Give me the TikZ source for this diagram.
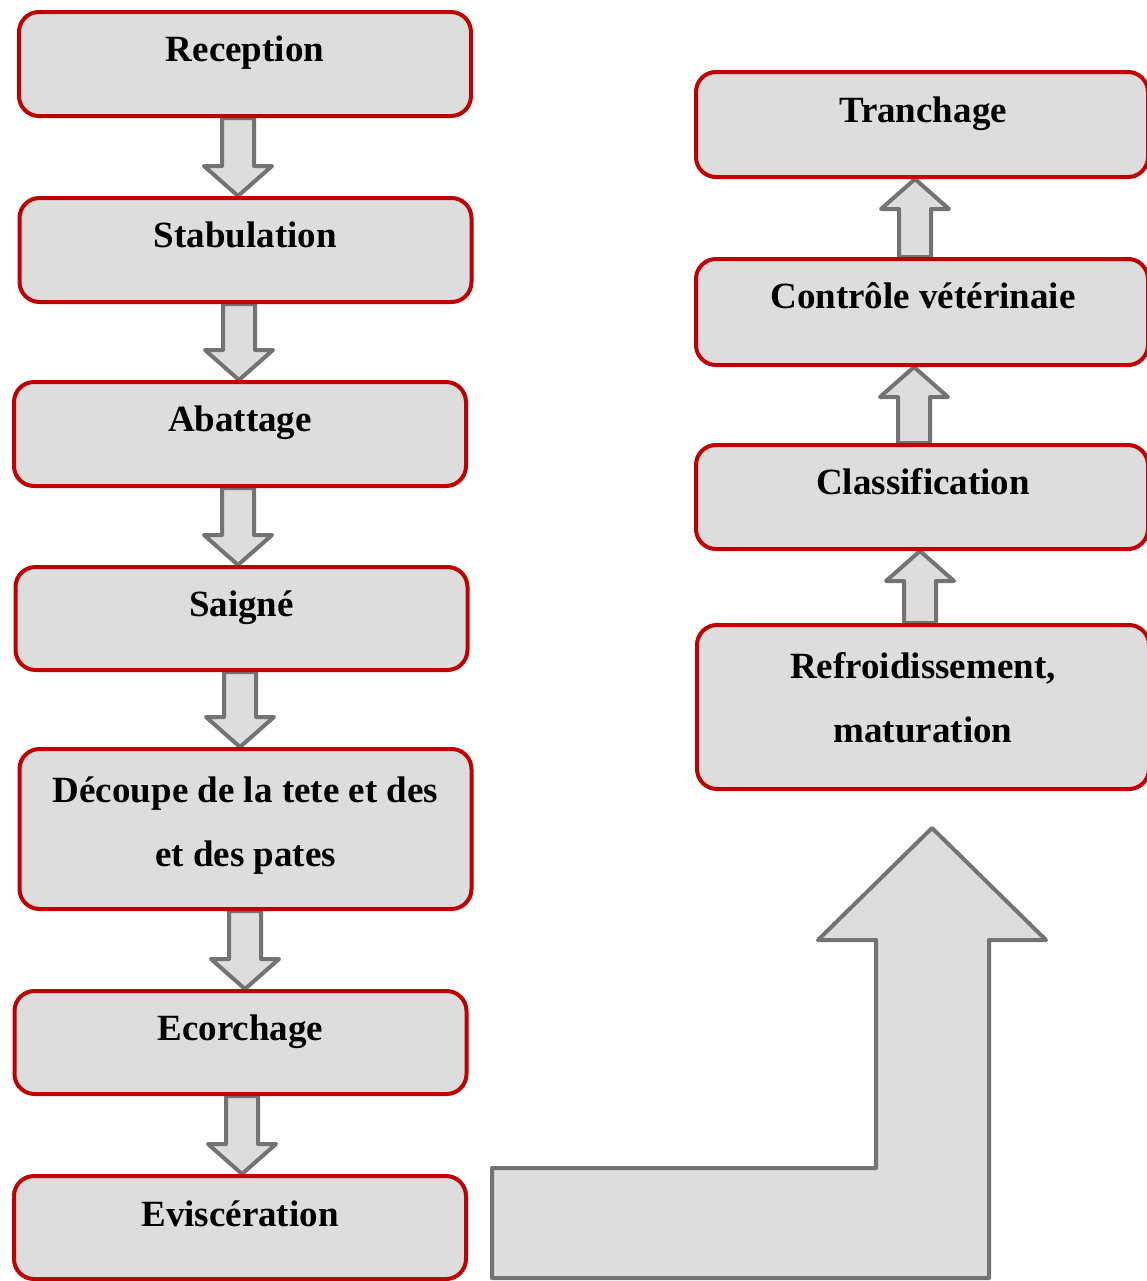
\documentclass[tikz,border=0pt]{standalone}
\usepackage{fontspec}
\setmainfont{Liberation Serif}
\usetikzlibrary{calc,backgrounds}
\definecolor{boxred}{HTML}{C00000}
\definecolor{arrgray}{HTML}{737373}
\definecolor{boxfill}{HTML}{DDDDDD}
\tikzset{
  etape/.style={draw=boxred, fill=boxfill, line width=2pt, rounded corners=10pt,
    minimum width=226pt, inner sep=0pt},
  txt/.style={anchor=base, inner sep=0pt, align=center,
    font=\bfseries\fontsize{18.5}{32}\selectfont},
  fleche/.style={draw=arrgray, fill=boxfill, line width=2pt, line join=round}
}
% fleche vers le bas : de #1 vers #2, axe en x = #3 (px)
\newcommand{\flechebas}[3]{%
  \draw[fleche] let \p1=(#1.south), \p2=(#2.north) in
    ({(#3-16)*0.5pt},\y1) -- ({(#3-16)*0.5pt},\y2+15pt) -- ({(#3-34)*0.5pt},\y2+15pt)
    -- ({#3*0.5pt},\y2) -- ({(#3+34)*0.5pt},\y2+15pt) -- ({(#3+16)*0.5pt},\y2+15pt)
    -- ({(#3+16)*0.5pt},\y1) -- cycle;}
% fleche vers le haut : de #1 vers #2, axe en x = #3 (px)
\newcommand{\flechehaut}[3]{%
  \draw[fleche] let \p1=(#1.north), \p2=(#2.south) in
    ({(#3-16)*0.5pt},\y1) -- ({(#3-16)*0.5pt},\y2-15pt) -- ({(#3-34)*0.5pt},\y2-15pt)
    -- ({#3*0.5pt},\y2) -- ({(#3+34)*0.5pt},\y2-15pt) -- ({(#3+16)*0.5pt},\y2-15pt)
    -- ({(#3+16)*0.5pt},\y1) -- cycle;}
\begin{document}
\begin{tikzpicture}[x=0.5pt, y=-0.5pt]
  \useasboundingbox (0,0) rectangle (1147,1281);

  % colonne de gauche
  \node[etape, minimum height=52pt] (rec) at (245,64) {};
  \node[etape, minimum height=52pt] (stab) at (245.5,250) {};
  \node[etape, minimum height=52pt] (abat) at (240,434) {};
  \node[etape, minimum height=51.5pt] (saig) at (241.5,618.5) {};
  \node[etape, minimum height=80pt] (dec) at (245.5,829) {};
  \node[etape, minimum height=51.5pt] (ecor) at (240.5,1042.5) {};
  \node[etape, minimum height=51.5pt] (evis) at (240,1227.5) {};

  % colonne de droite
  \node[etape, minimum height=82pt] (ref) at (923,707) {};
  \node[etape, minimum height=52pt] (clas) at (922,497) {};
  \node[etape, minimum height=53pt] (ctrl) at (922,312) {};
  \node[etape, minimum height=52.5pt] (tran) at (922,124.5) {};

  % textes (base = derniere ligne)
  \node[txt] (recT) at (245,61) {Reception};
  \node[txt] (stabT) at (245.5,247) {Stabulation};
  \node[txt] (abatT) at (240,431) {Abattage};
  \node[txt] (saigT) at (241.5,616) {Saigné};
  \node[txt] (decT) at (245.5,866) {Découpe de la tete et des\\et des pates};
  \node[txt] (ecorT) at (240.5,1040) {Ecorchage};
  \node[txt] (evisT) at (240,1226) {Eviscération};
  \node[txt] (refT) at (923,742) {Refroidissement,\\maturation};
  \node[txt] (clasT) at (923,494) {Classification};
  \node[txt] (ctrlT) at (923,308) {Contrôle vétérinaie};
  \node[txt] (tranT) at (923,122) {Tranchage};

  % fleches
  \begin{scope}[on background layer]
    \flechebas{rec}{stab}{238}
    \flechebas{stab}{abat}{239}
    \flechebas{abat}{saig}{238}
    \flechebas{saig}{dec}{240}
    \flechebas{dec}{ecor}{245}
    \flechebas{ecor}{evis}{242}
    \flechehaut{ref}{clas}{920}
    \flechehaut{clas}{ctrl}{914}
    \flechehaut{ctrl}{tran}{915}
  \end{scope}

  % grande fleche coudee
  \draw[fleche] (492,1278) -- (492,1168) -- (876,1168) -- (876,940) -- (818,940)
    -- (932,828) -- (1046,940) -- (989,940) -- (989,1278) -- cycle;
\end{tikzpicture}
\end{document}
